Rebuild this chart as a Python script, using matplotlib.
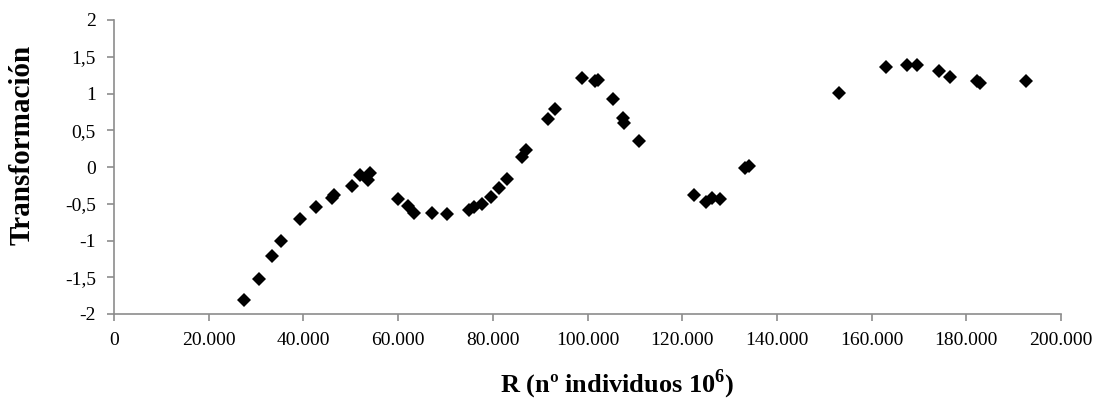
import matplotlib
matplotlib.use("Agg")
import matplotlib.pyplot as plt
from matplotlib.ticker import FuncFormatter, MultipleLocator

# R (nº individuos, miles) y valor de transformación
r_miles = [27.4, 30.6, 33.4, 35.3, 39.3, 42.7, 46.1, 46.4, 50.2, 52.0,
           53.6, 54.0, 59.9, 62.1, 63.3, 67.2, 70.3, 75.0, 76.0, 77.7,
           79.7, 81.4, 83.0, 86.1, 87.0, 91.6, 93.2, 98.9, 101.5, 102.3,
           105.3, 107.4, 107.8, 110.9, 122.4, 125.0, 126.3, 128.0, 133.2, 134.1,
           153.2, 163.0, 167.5, 169.6, 174.2, 176.5, 182.2, 182.8, 192.6]
transformacion = [-1.81, -1.52, -1.21, -1.00, -0.71, -0.54, -0.42, -0.38, -0.26, -0.11,
                  -0.18, -0.08, -0.44, -0.53, -0.62, -0.62, -0.64, -0.59, -0.54, -0.51,
                  -0.41, -0.28, -0.16, 0.14, 0.23, 0.65, 0.79, 1.21, 1.17, 1.19,
                  0.92, 0.66, 0.60, 0.36, -0.38, -0.48, -0.42, -0.43, -0.01, 0.02,
                  1.01, 1.36, 1.39, 1.39, 1.30, 1.23, 1.17, 1.14, 1.17]

r = [v * 1000 for v in r_miles]

plt.rcParams['font.family'] = ['Liberation Serif', 'DejaVu Serif']
plt.rcParams['mathtext.fontset'] = 'custom'
plt.rcParams['mathtext.rm'] = 'Liberation Serif'
plt.rcParams['mathtext.bf'] = 'Liberation Serif:bold'

fig = plt.figure(figsize=(11.06, 4.03), dpi=100)
ax = fig.add_axes([114 / 1106, 1 - 314 / 403, (1061 - 114) / 1106, (314 - 20) / 403])

ax.plot(r, transformacion, linestyle='none', marker='D', markersize=6.8,
        color='black', markeredgewidth=0)

ax.set_xlim(0, 200000)
ax.set_ylim(-2, 2)
ax.xaxis.set_major_locator(MultipleLocator(20000))
ax.yaxis.set_major_locator(MultipleLocator(0.5))


def fmt_x(v, pos):
    return f"{int(round(v)):,}".replace(",", ".")


def fmt_y(v, pos):
    if abs(v - round(v)) < 1e-9:
        return f"{int(round(v))}"
    return f"{v:.1f}".replace(".", ",")


ax.xaxis.set_major_formatter(FuncFormatter(fmt_x))
ax.yaxis.set_major_formatter(FuncFormatter(fmt_y))

grey = '#8c8c8c'
for side in ['top', 'right']:
    ax.spines[side].set_visible(False)
for side in ['left', 'bottom']:
    ax.spines[side].set_color(grey)
    ax.spines[side].set_linewidth(1.2)
ax.tick_params(axis='both', direction='out', length=5, width=1.2, color=grey,
               labelsize=14, pad=8)

fig.text(22 / 1106, 1 - 145 / 403, 'Transformación', rotation=90, fontsize=21,
         fontweight='bold', ha='center', va='center')
fig.text(617 / 1106, 1 - 392 / 403, r'R (nº individuos 10$^{\mathbf{6}}$)',
         fontsize=19, fontweight='bold', ha='center', va='baseline')

fig.savefig('out.png', dpi=100)
